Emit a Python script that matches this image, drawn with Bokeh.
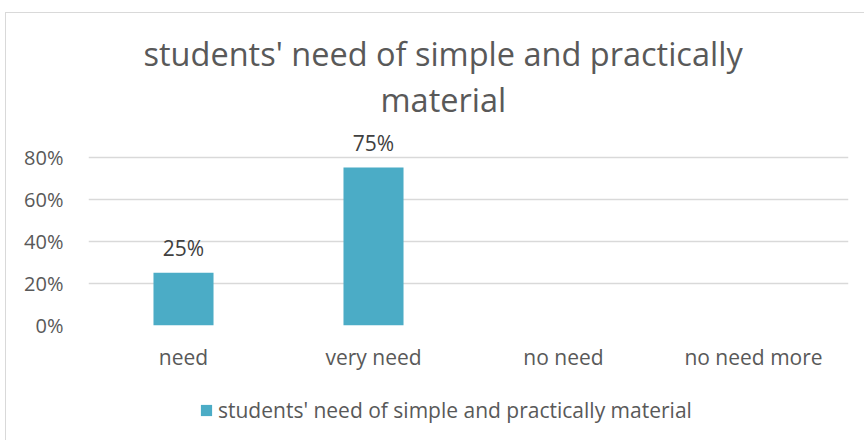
from bokeh.plotting import figure
from bokeh.layouts import column
from bokeh.core.properties import value
from bokeh.models import (ColumnDataSource, FactorRange, Range1d, FixedTicker,
                          NumeralTickFormatter, Legend, LegendItem, Title, LabelSet)
from bokeh.embed import file_html
from bokeh.resources import INLINE

categories = ["need", "very need", "no need", "no need more"]
values = [0.25, 0.75, 0.0, 0.0]
value_labels = ["25%", "75%", "", ""]
series_name = "students' need of simple and practically material"
title_line1 = "students' need of simple and practically"
title_line2 = "material"
y_ticks = [0, 0.2, 0.4, 0.6, 0.8]

FONT = "Open Sans"
GRAY = "#595959"
BAR = "#4BACC6"
BORDER = "1px solid #D9D9D9"

src = ColumnDataSource(dict(cat=categories, val=values, lab=value_labels))

# main chart: canvas starts at (6, 13) in the window
p = figure(width=859, height=372, x_range=FactorRange(*categories),
           y_range=Range1d(0, 0.95), title=None, output_backend="svg",
           toolbar_location=None, min_border_left=82, min_border_right=17,
           min_border_top=112, min_border_bottom=60)
p.margin = (12, 0, 0, 5)
p.styles = {"border-top": BORDER, "border-left": BORDER}
p.outline_line_color = None
p.x_range.range_padding = 0
p.x_range.group_padding = 0

r = p.vbar(x="cat", top="val", width=0.316, source=src, color=BAR, line_color=None)

labels = LabelSet(x="cat", y="val", text="lab", source=src, text_align="center",
                  text_baseline="middle", y_offset=25, text_font=value(FONT),
                  text_font_size="21px", text_color="#404040")
p.add_layout(labels)

p.yaxis.ticker = FixedTicker(ticks=y_ticks)
p.yaxis.formatter = NumeralTickFormatter(format="0%")
p.yaxis.axis_line_color = None
p.yaxis.major_tick_line_color = None
p.yaxis.minor_tick_line_color = None
p.yaxis.major_label_standoff = 19
p.yaxis.major_label_text_font = FONT
p.yaxis.major_label_text_font_size = "20px"
p.yaxis.major_label_text_color = GRAY

p.xaxis.axis_line_color = None
p.xaxis.major_tick_line_color = None
p.xaxis.minor_tick_line_color = None
p.xaxis.major_label_standoff = 11
p.xaxis.major_label_text_font = FONT
p.xaxis.major_label_text_font_size = "21px"
p.xaxis.major_label_text_color = GRAY

p.xgrid.grid_line_color = None
p.ygrid.grid_line_color = "#D9D9D9"
p.ygrid.grid_line_width = 1.5

p.add_layout(Title(text=title_line2, align="left", text_font=FONT,
                   text_font_size="32.5px", text_font_style="normal",
                   text_color=GRAY, offset=292, standoff=8), "above")
p.add_layout(Title(text=title_line1, align="left", text_font=FONT,
                   text_font_size="32.5px", text_font_style="normal",
                   text_color=GRAY, offset=55, standoff=-11), "above")

# legend strip below the chart
p2 = figure(width=859, height=56, x_range=FactorRange(*categories),
            y_range=Range1d(5, 6), title=None, output_backend="svg",
            toolbar_location=None, min_border=0)
p2.margin = (0, 0, 0, 5)
p2.styles = {"border-left": BORDER}
p2.outline_line_color = None
p2.axis.visible = False
p2.grid.grid_line_color = None
r2 = p2.vbar(x="cat", top="val", width=0.316, source=src, color=BAR, line_color=None)

legend = Legend(items=[LegendItem(label=series_name, renderers=[r2])],
                location=(111, 16), orientation="horizontal",
                label_text_font=FONT, label_text_font_size="21px",
                label_text_color=GRAY, glyph_width=14, glyph_height=14,
                border_line_color=None, background_fill_alpha=0,
                padding=4, margin=0, label_standoff=5)
p2.add_layout(legend)

layout = column(p, p2, spacing=0)
open("out.html", "w").write(file_html(layout, INLINE))
